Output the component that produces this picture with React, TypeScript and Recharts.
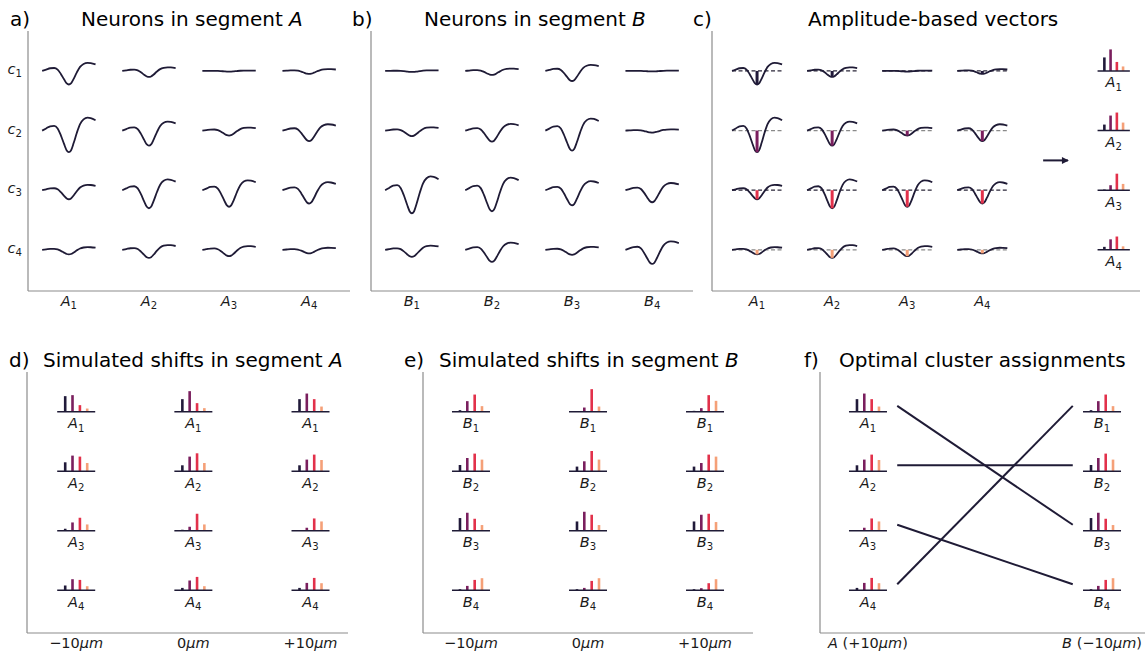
import React from 'react';
import { ComposedChart, Line, Scatter, XAxis, YAxis } from 'recharts';

const FONT = 'DejaVu Sans, sans-serif';
const INK = '#1f1b36';
const TEXT = '#1a1a1a';
const SPINE = '#8c8c8c';
const CHANNEL_COLORS = ['#211a3a', '#7a1f5e', '#e2314b', '#f5a078'];
const DASH_COLORS = ['#2a2638', '#8a8a8a', '#2a2638', '#8a8a8a'];

// channel (row) and neuron (column) names
const channels = ['1', '2', '3', '4'];
const neurons = ['1', '2', '3', '4'];
const shiftLabels = ['−10', '0', '+10'];
const matchLabels = [
  { letter: 'A', shift: '+10' },
  { letter: 'B', shift: '−10' },
];

// spike template, trough normalised to -1 (u runs over one column width)
const waveU = [-1, -0.85, -0.7, -0.55, -0.42, -0.3, -0.18, -0.08, 0, 0.08, 0.18, 0.3, 0.42, 0.55, 0.7, 0.82, 1];
const waveV = [0, 0.1, 0.2, 0.22, 0.1, -0.22, -0.62, -0.92, -1, -0.92, -0.58, -0.1, 0.3, 0.52, 0.6, 0.58, 0.48];

// trough amplitude, rows = channels c1..c4, cols = neurons
const ampA = [
  [13.5, 6, 0.7, 3],
  [21.5, 15, 5, 10.5],
  [9, 18, 16.5, 13.3],
  [4.5, 8, 6.3, 3.5],
];
const ampB = [
  [1, 4, 10, 0.5],
  [5.5, 11, 20, 2],
  [23, 21, 15, 12],
  [7, 12, 5, 14],
];

// amplitude vectors after simulated shifts, one row per neuron
const shiftA_m10 = [
  [15.7, 16.7, 6.7, 3.3],
  [9, 15.7, 14.7, 8.3],
  [2, 8.3, 13, 6.3],
  [4.7, 11, 10.3, 4],
];
const shiftA_0 = [
  [12.7, 20.7, 8.7, 3.7],
  [6, 14.7, 18, 8.3],
  [1, 4, 17, 6.3],
  [2.3, 9.7, 13.3, 4],
];
const shiftA_p10 = [
  [12.7, 18.3, 12.7, 5.3],
  [6, 11.7, 16.7, 11.3],
  [0.7, 3, 12.3, 9.3],
  [2.3, 7.3, 12.3, 7],
];
const shiftB_m10 = [
  [1.7, 10.7, 17.3, 5.7],
  [6.3, 13.3, 17.7, 11.7],
  [12.7, 18, 12, 5.7],
  [1, 4.3, 10.3, 12],
];
const shiftB_0 = [
  [0.7, 4.3, 22.7, 5.3],
  [4.7, 10, 20.3, 11.7],
  [9.3, 19, 16, 5.7],
  [1, 2.3, 9.3, 12],
];
const shiftB_p10 = [
  [1, 3.7, 16.7, 11],
  [4.7, 8.3, 16.7, 14.7],
  [9.3, 16, 17, 8.7],
  [1, 2, 7, 11],
];

// A_i (+10um) is matched to B_assignment[i] (-10um)
const assignment = [3, 2, 4, 1];

const arrowPath = [
  { x: 4.81, y: 2.5 },
  { x: 5.14, y: 2.5 },
];

// layout
const ROW_PX = 59.5;
const HALF = 1 / 3;
const AXIS_W = 30;
const AXIS_H = 30;
const BAR_OFFSETS = [-11, -3.7, 3.7, 11];

type Frame = { left: number; top: number; w: number; h: number; x: [number, number]; y: [number, number] };
const frameA: Frame = { left: 28, top: 31, w: 322, h: 260, x: [0.49, 4.51], y: [0.33, 4.69] };
const frameB: Frame = { ...frameA, left: 371 };
const frameC: Frame = { left: 712, top: 31, w: 428, h: 260, x: [0.4, 6.1], y: [0.33, 4.69] };
const frameD: Frame = { left: 27, top: 372, w: 321, h: 261, x: [-0.42, 2.32], y: [0.33, 4.72] };
const frameE: Frame = { left: 423, top: 372, w: 330, h: 261, x: [-0.41, 2.41], y: [0.33, 4.72] };
const frameF: Frame = { ...frameE, left: 820 };
const pxPerX = (f: Frame) => f.w / (f.x[1] - f.x[0]);

const seg = (key: string, data: { x: number; y: number }[], stroke: string, width: number, dash?: string) => (
  <Line
    key={key}
    data={data}
    dataKey="y"
    type="linear"
    stroke={stroke}
    strokeWidth={width}
    strokeDasharray={dash}
    dot={false}
    activeDot={false}
    isAnimationActive={false}
  />
);

const wave = (key: string, col: number, row: number, amp: number) => (
  <Line
    key={key}
    data={waveU.map((u, i) => ({ x: col + u * HALF, y: row - (waveV[i] * amp) / ROW_PX }))}
    dataKey="y"
    type="monotone"
    stroke={INK}
    strokeWidth={1.8}
    dot={false}
    activeDot={false}
    isAnimationActive={false}
  />
);

const glyph = (key: string, cx: number, row: number, values: number[], f: Frame, scale = 1) => {
  const k = scale / pxPerX(f);
  const items = values.map((v, i) =>
    seg(
      `${key}-${i}`,
      [
        { x: cx + BAR_OFFSETS[i] * k, y: row },
        { x: cx + BAR_OFFSETS[i] * k, y: row - v / ROW_PX },
      ],
      CHANNEL_COLORS[i],
      2.6
    )
  );
  items.push(seg(`${key}-base`, [{ x: cx - 19 * k, y: row }, { x: cx + 19 * k, y: row }], INK, 1.5));
  return items;
};

const SubText = ({ x, y, letter, sub, size = 14.5, anchor = 'middle' }: any) => (
  <text x={x} y={y} textAnchor={anchor} fontFamily={FONT} fontSize={size} fill={TEXT}>
    <tspan fontStyle="italic">{letter}</tspan>
    <tspan fontSize={size * 0.7} dy={size * 0.22}>
      {sub}
    </tspan>
  </text>
);

const labels = (key: string, points: { x: number; y: number; letter: string; sub: string }[]) => (
  <Scatter
    key={key}
    data={points}
    isAnimationActive={false}
    shape={(p: any) => <SubText x={p.cx} y={p.cy + 16.5} letter={p.payload.letter} sub={p.payload.sub} />}
  />
);

const neuronTick = (letter: string) => (p: any) => (
  <SubText x={p.x} y={p.y + 15} letter={letter} sub={neurons[p.payload.value - 1]} />
);
const channelTick = (p: any) => (
  <SubText x={p.x} y={p.y + 3} letter="c" sub={channels[p.payload.value - 1]} anchor="end" />
);
const shiftTick = (p: any) => (
  <text x={p.x} y={p.y + 15} textAnchor="middle" fontFamily={FONT} fontSize={14.5} fill={TEXT}>
    {shiftLabels[p.payload.value]}
    <tspan fontStyle="italic">µm</tspan>
  </text>
);
const matchTick = (p: any) => {
  const m = matchLabels[p.payload.value / 2];
  return (
    <text x={p.x} y={p.y + 15} textAnchor="middle" fontFamily={FONT} fontSize={14.5} fill={TEXT}>
      <tspan fontStyle="italic">{m.letter}</tspan>
      {' ('}
      {m.shift}
      <tspan fontStyle="italic">µm</tspan>
      {')'}
    </text>
  );
};

const Panel = ({ f, xTicks, xTick, yTicks, yTick, children }: any) => (
  <div style={{ position: 'absolute', left: f.left - AXIS_W, top: f.top }}>
    <ComposedChart width={f.w + AXIS_W} height={f.h + AXIS_H} margin={{ top: 0, right: 0, bottom: 0, left: 0 }}>
      <XAxis
        type="number"
        dataKey="x"
        domain={f.x}
        allowDataOverflow
        ticks={xTicks}
        interval={0}
        tick={xTick ?? false}
        tickLine={false}
        tickSize={0}
        tickMargin={0}
        height={AXIS_H}
        axisLine={{ stroke: SPINE, strokeWidth: 1.2 }}
      />
      <YAxis
        type="number"
        dataKey="y"
        domain={f.y}
        reversed
        allowDataOverflow
        ticks={yTicks}
        interval={0}
        tick={yTick ?? false}
        tickLine={false}
        tickSize={0}
        tickMargin={6}
        width={AXIS_W}
        axisLine={{ stroke: SPINE, strokeWidth: 1.2 }}
      />
      {children}
    </ComposedChart>
  </div>
);

const titles = [
  { tag: 'a)', tagX: 10, x: 81, y: 25.5, text: 'Neurons in segment ', it: 'A' },
  { tag: 'b)', tagX: 352, x: 424, y: 25.5, text: 'Neurons in segment ', it: 'B' },
  { tag: 'c)', tagX: 693, x: 808, y: 25.5, text: 'Amplitude-based vectors', it: '' },
  { tag: 'd)', tagX: 9, x: 43, y: 366.5, text: 'Simulated shifts in segment ', it: 'A' },
  { tag: 'e)', tagX: 404, x: 439, y: 366.5, text: 'Simulated shifts in segment ', it: 'B' },
  { tag: 'f)', tagX: 804, x: 839, y: 366.5, text: 'Optimal cluster assignments', it: '' },
];

export default function App() {
  const idx = [1, 2, 3, 4];

  const wavesA = ampA.flatMap((rowVals, r) => rowVals.map((a, c) => wave(`a-${r}-${c}`, c + 1, r + 1, a)));
  const wavesB = ampB.flatMap((rowVals, r) => rowVals.map((a, c) => wave(`b-${r}-${c}`, c + 1, r + 1, a)));

  const vectorsC = ampA.flatMap((rowVals, r) =>
    rowVals.flatMap((a, c) => [
      seg(`cd-${r}-${c}`, [{ x: c + 1 - HALF, y: r + 1 }, { x: c + 1 + HALF, y: r + 1 }], DASH_COLORS[r], 1.2, '4 2.5'),
      wave(`cw-${r}-${c}`, c + 1, r + 1, a),
      seg(`cb-${r}-${c}`, [{ x: c + 1, y: r + 1 }, { x: c + 1, y: r + 1 + a / ROW_PX }], CHANNEL_COLORS[r], 3),
    ])
  );
  const glyphX = 5.75;
  const glyphsC = neurons.flatMap((_, n) =>
    glyph(`cg-${n}`, glyphX, n + 1, ampA.map((rowVals) => rowVals[n]), frameC, 0.85)
  );

  const shiftsA = [shiftA_m10, shiftA_0, shiftA_p10];
  const shiftsB = [shiftB_m10, shiftB_0, shiftB_p10];
  const glyphsD = shiftsA.flatMap((vecs, s) => vecs.flatMap((v, n) => glyph(`d-${s}-${n}`, s, n + 1, v, frameD)));
  const glyphsE = shiftsB.flatMap((vecs, s) => vecs.flatMap((v, n) => glyph(`e-${s}-${n}`, s, n + 1, v, frameE)));
  const gridLabels = (letter: string) =>
    [0, 1, 2].flatMap((s) => neurons.map((sub, n) => ({ x: s, y: n + 1, letter, sub })));

  const glyphsF = [
    ...shiftA_p10.flatMap((v, n) => glyph(`fa-${n}`, 0, n + 1, v, frameF)),
    ...shiftB_m10.flatMap((v, n) => glyph(`fb-${n}`, 2, n + 1, v, frameF)),
  ];
  const matchLines = assignment.map((b, a) =>
    seg(`fl-${a}`, [{ x: 0.25, y: a + 1 - 0.1 }, { x: 1.75, y: b - 0.1 }], INK, 2)
  );

  return (
    <div
      style={{
        position: 'absolute',
        left: 0,
        top: 0,
        width: 1145,
        height: 654,
        overflow: 'hidden',
        background: '#fff',
        fontFamily: FONT,
      }}
    >
      <Panel f={frameA} xTicks={idx} xTick={neuronTick('A')} yTicks={idx} yTick={channelTick}>
        {wavesA}
      </Panel>
      <Panel f={frameB} xTicks={idx} xTick={neuronTick('B')}>
        {wavesB}
      </Panel>
      <Panel f={frameC} xTicks={idx} xTick={neuronTick('A')}>
        {vectorsC}
        {glyphsC}
        <Line
          data={arrowPath}
          dataKey="y"
          stroke={INK}
          strokeWidth={2}
          isAnimationActive={false}
          activeDot={false}
          dot={(p: any) =>
            p.index === arrowPath.length - 1 ? (
              <polygon
                key="head"
                points={`${p.cx - 6},${p.cy - 3.5} ${p.cx + 1},${p.cy} ${p.cx - 6},${p.cy + 3.5}`}
                fill={INK}
              />
            ) : (
              <g key={`tail-${p.index}`} />
            )
          }
        />
        {labels('cl', neurons.map((sub, n) => ({ x: glyphX, y: n + 1, letter: 'A', sub })))}
      </Panel>
      <Panel f={frameD} xTicks={[0, 1, 2]} xTick={shiftTick}>
        {glyphsD}
        {labels('dl', gridLabels('A'))}
      </Panel>
      <Panel f={frameE} xTicks={[0, 1, 2]} xTick={shiftTick}>
        {glyphsE}
        {labels('el', gridLabels('B'))}
      </Panel>
      <Panel f={frameF} xTicks={[0, 2]} xTick={matchTick}>
        {matchLines}
        {glyphsF}
        {labels('fla', neurons.map((sub, n) => ({ x: 0, y: n + 1, letter: 'A', sub })))}
        {labels('flb', neurons.map((sub, n) => ({ x: 2, y: n + 1, letter: 'B', sub })))}
      </Panel>

      <svg width={1145} height={654} style={{ position: 'absolute', left: 0, top: 0, pointerEvents: 'none' }}>
        {titles.map((t) => (
          <g key={t.tag} fontFamily={FONT} fontSize={20} fill="#000">
            <text x={t.tagX} y={t.y}>
              {t.tag}
            </text>
            <text x={t.x} y={t.y}>
              {t.text}
              {t.it && <tspan fontStyle="italic">{t.it}</tspan>}
            </text>
          </g>
        ))}
      </svg>
    </div>
  );
}
